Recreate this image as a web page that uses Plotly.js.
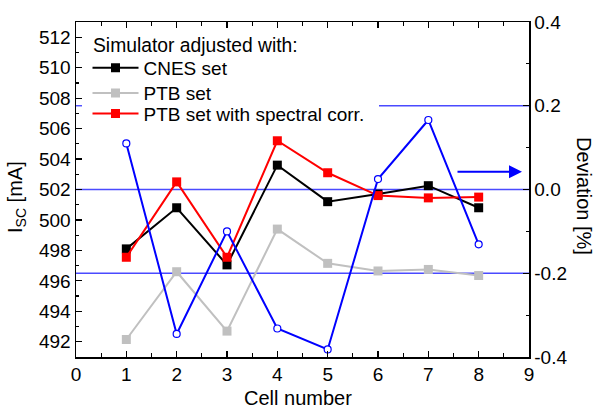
<!DOCTYPE html>
<html>
<head>
<meta charset="utf-8">
<script src="https://cdn.plot.ly/plotly-3.0.1.min.js"></script>
<style>html,body{margin:0;padding:0;background:#fff;}#chart{width:595px;height:410px;}</style>
</head>
<body>
<div id="chart"></div>
<script>
// ---- data ----
var cells = [1, 2, 3, 4, 5, 6, 7, 8];
var cnesSet = [498.1, 500.8, 497.05, 503.6, 501.2, 501.7, 502.25, 500.8];
var ptbSet = [492.15, 496.6, 492.7, 499.4, 497.15, 496.65, 496.75, 496.35];
var ptbSpectralCorr = [497.55, 502.5, 497.55, 505.2, 503.1, 501.6, 501.45, 501.5];
var deviation = [0.110, -0.345, -0.100, -0.332, -0.382, 0.025, 0.166, -0.131];
var seriesNames = ['CNES set', 'PTB set', 'PTB set with spectral corr.'];
var devTickVals = [-0.4, -0.2, 0.0, 0.2, 0.4];
var devTickText = ['-0.4', '-0.2', '0.0', '0.2', '0.4'];
var refLines = [0.2, 0.0, -0.2];

var FONT = 'Arial, "Liberation Sans", sans-serif';

var traces = [
  {x: cells, y: cnesSet, name: seriesNames[0], type: 'scatter', mode: 'lines+markers',
   line: {color: '#000000', width: 2}, marker: {symbol: 'square', size: 9, color: '#000000'},
   legend: 'legend'},
  {x: cells, y: ptbSet, name: seriesNames[1], type: 'scatter', mode: 'lines+markers',
   line: {color: '#c0c0c0', width: 2}, marker: {symbol: 'square', size: 9, color: '#c0c0c0'},
   legend: 'legend2'},
  {x: cells, y: ptbSpectralCorr, name: seriesNames[2], type: 'scatter', mode: 'lines+markers',
   line: {color: '#ff0000', width: 2}, marker: {symbol: 'square', size: 9, color: '#ff0000'},
   legend: 'legend3'},
  {x: cells, y: deviation, name: 'Deviation', yaxis: 'y2', type: 'scatter', mode: 'lines+markers',
   showlegend: false,
   line: {color: '#0000ff', width: 2},
   marker: {symbol: 'circle', size: 7, color: '#ffffff', line: {color: '#0000ff', width: 1.2}}}
];

function px2paperX(p) { return (p - 76) / 453; }
function px2paperY(p) { return (357 - p) / 335; }

var BLUE_REF = '#4a4aff';
var shapes = [];
refLines.forEach(function (v) {
  if (v === 0.2) {
    shapes.push({type: 'line', xref: 'paper', yref: 'y2', x0: px2paperX(379), x1: 1, y0: v, y1: v,
      line: {color: BLUE_REF, width: 1.4}, layer: 'below'});
    shapes.push({type: 'line', xref: 'paper', yref: 'y2', x0: 0, x1: px2paperX(82), y0: v, y1: v,
      line: {color: BLUE_REF, width: 1.4}, layer: 'below'});
  } else {
    shapes.push({type: 'line', xref: 'paper', yref: 'y2', x0: 0, x1: 1, y0: v, y1: v,
      line: {color: BLUE_REF, width: 1.4}, layer: 'below'});
  }
});

var legendBase = {
  xref: 'paper', yref: 'paper', x: px2paperX(87.5), xanchor: 'left', yanchor: 'middle',
  bgcolor: 'rgba(0,0,0,0)', borderwidth: 0, itemwidth: 46,
  font: {family: FONT, size: 19, color: '#000'}
};
function mkLegend(yPx) {
  var o = JSON.parse(JSON.stringify(legendBase));
  o.y = px2paperY(yPx);
  return o;
}

var axisCommon = {
  showline: true, linecolor: '#000', linewidth: 1.5, showgrid: false, zeroline: false,
  ticks: 'inside', ticklen: 6, tickwidth: 1.2, tickcolor: '#000',
  tickfont: {family: FONT, size: 19, color: '#000'}
};

var layout = {
  width: 595, height: 410,
  margin: {l: 76, r: 66, t: 22, b: 53, pad: 0},
  paper_bgcolor: '#ffffff', plot_bgcolor: '#ffffff',
  font: {family: FONT, color: '#000'},
  xaxis: Object.assign({}, axisCommon, {
    range: [0, 9], tickmode: 'linear', tick0: 0, dtick: 1, mirror: 'ticks',
    minor: {dtick: 0.5, tick0: 0, ticks: 'inside', ticklen: 4, tickcolor: '#000', tickwidth: 1.2, showgrid: false}
  }),
  yaxis: Object.assign({}, axisCommon, {
    range: [491, 513], tickmode: 'linear', tick0: 492, dtick: 2,
    minor: {dtick: 1, tick0: 491, ticks: 'inside', ticklen: 3, tickcolor: '#000', tickwidth: 1.2, showgrid: false}
  }),
  yaxis2: Object.assign({}, axisCommon, {
    overlaying: 'y', side: 'right', range: [-0.4, 0.4],
    tickmode: 'array', tickvals: devTickVals, ticktext: devTickText,
    minor: {tickmode: 'linear', dtick: 0.1, tick0: -0.4, ticks: 'inside', ticklen: 3, tickcolor: '#000', tickwidth: 1.2, showgrid: false}
  }),
  legend: mkLegend(67.9),
  legend2: mkLegend(93.1),
  legend3: mkLegend(113.6),
  shapes: shapes,
  annotations: [
    {text: 'Simulator adjusted with:', xref: 'paper', yref: 'paper',
     x: px2paperX(91), y: px2paperY(45), xanchor: 'left', yanchor: 'middle', showarrow: false,
     font: {family: FONT, size: 19.3, color: '#000'}},
    {text: 'I<sub>SC</sub> [mA]', xref: 'paper', yref: 'paper', x: px2paperX(17), y: px2paperY(197),
     xanchor: 'center', yanchor: 'middle', textangle: -90, showarrow: false,
     font: {family: FONT, size: 20, color: '#000'}},
    {text: 'Deviation [%]', xref: 'paper', yref: 'paper', x: px2paperX(584), y: px2paperY(196),
     xanchor: 'center', yanchor: 'middle', textangle: 90, showarrow: false,
     font: {family: FONT, size: 20, color: '#000'}},
    {text: 'Cell number', xref: 'paper', yref: 'paper', x: px2paperX(297.5), y: px2paperY(398),
     xanchor: 'center', yanchor: 'middle', showarrow: false,
     font: {family: FONT, size: 20, color: '#000'}},
    {text: '', xref: 'paper', yref: 'paper', x: px2paperX(522), y: px2paperY(171.7),
     ax: -66, ay: 0, axref: 'pixel', ayref: 'pixel', showarrow: true,
     arrowhead: 2, arrowsize: 1.3, arrowwidth: 2, arrowcolor: '#0000ff'}
  ]
};

Plotly.newPlot('chart', traces, layout, {displayModeBar: false, staticPlot: true});
</script>
</body>
</html>
